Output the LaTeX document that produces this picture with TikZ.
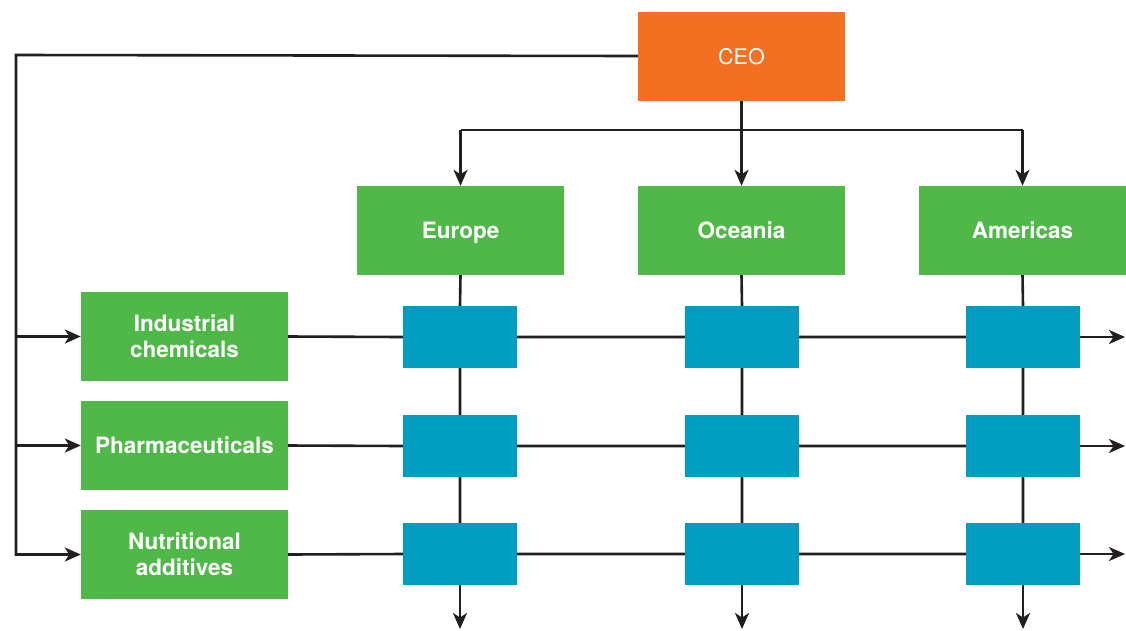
\documentclass[tikz,border=0pt]{standalone}
\usepackage{fontspec}
\setmainfont{TeX Gyre Heros}
\usetikzlibrary{arrows.meta}
\definecolor{ceoorange}{HTML}{F37022}
\definecolor{unitgreen}{HTML}{50B848}
\definecolor{cellblue}{HTML}{009DC0}
\definecolor{linedark}{HTML}{231F20}
\begin{document}
\begin{tikzpicture}[x=1pt,y=-1pt,
  box/.style={minimum width=207pt,minimum height=89pt,inner sep=0pt,align=center,text=white,
    font=\fontsize{21.5}{26}\selectfont,
    execute at begin node={\rule{0pt}{22pt}},execute at end node={\rule[-6pt]{0pt}{6pt}}},
  ceobox/.style={box,fill=ceoorange},
  unitbox/.style={box,fill=unitgreen,font=\fontsize{22.5}{26}\selectfont\bfseries},
  twolinetext/.style={unitbox,fill=none},
  cell/.style={fill=cellblue,minimum width=114pt,minimum height=62pt,inner sep=0pt},
  link/.style={draw=linedark,line width=2.6pt},
  arrowlink/.style={link,-{Stealth[length=16pt,width=14pt,inset=4.5pt]}}]
\useasboundingbox (0,0) rectangle (1126,630);

% top level
\node[ceobox] (ceo) at (741.5,56) {CEO};

% regions
\node[unitbox] (eu) at (460.5,230.5) {Europe};
\node[unitbox] (oc) at (741.5,230.5) {Oceania};
\node[unitbox] (am) at (1022.5,230.5) {Americas};

% business lines (two-line captions set a little lower)
\node[unitbox] (ind) at (184.5,336.5) {};
\node[twolinetext] (indtext) at ([yshift=-2.5pt]ind.center) {Industrial\\chemicals};
\node[unitbox] (pha) at (184.5,445.5) {Pharmaceuticals};
\node[unitbox] (nut) at (184.5,554.5) {};
\node[twolinetext] (nuttext) at ([yshift=-2.5pt]nut.center) {Nutritional\\additives};

% matrix cells
\foreach \col/\x in {e/460,o/742,a/1023}{
  \node[cell] (\col1) at (\x,337) {};
  \node[cell] (\col2) at (\x,446) {};
  \node[cell] (\col3) at (\x,554) {};
}

% free ends of the connectors
\coordinate (split) at (741.5,130);
\coordinate (trunk) at (16,55);
\coordinate (eend) at (460,629);
\coordinate (oend) at (742,629);
\coordinate (aend) at (1023,629);
\coordinate (r1end) at (1125,337);
\coordinate (r2end) at (1125,446);
\coordinate (r3end) at (1125,554);

% CEO to regions
\draw[link] (ceo.south) -- (split);
\draw[link] (split -| eu) -- (split -| am);
\draw[arrowlink] (split -| eu) -- (eu.north);
\draw[arrowlink] (split) -- (oc.north);
\draw[arrowlink] (split -| am) -- (am.north);

% CEO to business lines
\draw[arrowlink] (ceo.west) -- (trunk) |- (nut.west);
\draw[arrowlink] (trunk |- ind.west) -- (ind.west);
\draw[arrowlink] (trunk |- pha.west) -- (pha.west);

% region columns
\draw[link] (eu.south) -- (e1.north) (e1.south) -- (e2.north) (e2.south) -- (e3.north);
\draw[arrowlink] (e3.south) -- (eend);
\draw[link] (oc.south) -- (o1.north) (o1.south) -- (o2.north) (o2.south) -- (o3.north);
\draw[arrowlink] (o3.south) -- (oend);
\draw[link] (am.south) -- (a1.north) (a1.south) -- (a2.north) (a2.south) -- (a3.north);
\draw[arrowlink] (a3.south) -- (aend);

% business line rows
\draw[link] (ind.east) -- (e1.west) (e1.east) -- (o1.west) (o1.east) -- (a1.west);
\draw[arrowlink] (a1.east) -- (r1end);
\draw[link] (pha.east) -- (e2.west) (e2.east) -- (o2.west) (o2.east) -- (a2.west);
\draw[arrowlink] (a2.east) -- (r2end);
\draw[link] (nut.east) -- (e3.west) (e3.east) -- (o3.west) (o3.east) -- (a3.west);
\draw[arrowlink] (a3.east) -- (r3end);
\end{tikzpicture}
\end{document}
